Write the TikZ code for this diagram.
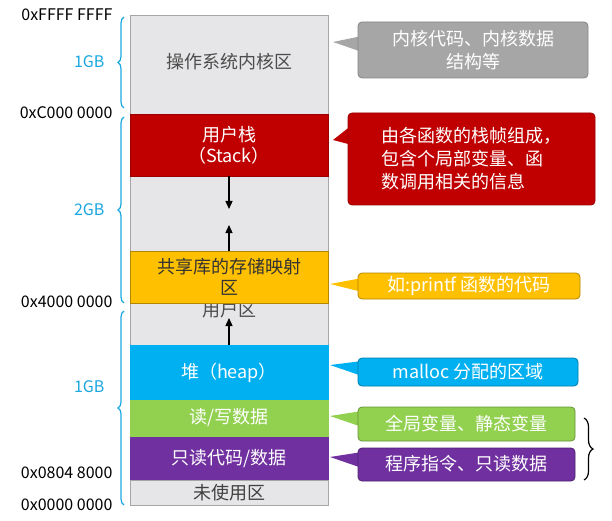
\documentclass[tikz,border=0pt]{standalone}
\usepackage{fontspec}
\setmainfont{Noto Sans CJK SC}
\usetikzlibrary{decorations.pathreplacing,arrows.meta}
\definecolor{kgray}{HTML}{E6E6E8}
\definecolor{sred}{HTML}{C00000}
\definecolor{syel}{HTML}{FFC000}
\definecolor{hblue}{HTML}{00B0F0}
\definecolor{dgreen}{HTML}{92D050}
\definecolor{rpurp}{HTML}{7030A0}
\definecolor{brblue}{HTML}{1AA7E0}
\definecolor{cgray}{HTML}{A6A6A6}
\begin{document}
\begin{tikzpicture}[x=1pt,y=-1pt,
  seg/.style={draw=gray!70,line width=0.8pt},
  lab/.style={font=\fontsize{18}{21}\selectfont,align=center},
  addr/.style={anchor=east,font=\fontsize{16}{18}\selectfont},
  gb/.style={anchor=east,text=brblue,font=\fontsize{16}{18}\selectfont},
  lbrace/.style={draw=brblue,line width=1.2pt,decorate,decoration={brace,amplitude=6pt}},
  co/.style={rounded corners=4pt,line width=0.8pt},
  cot/.style={font=\fontsize{18}{23}\selectfont,align=center},
  arr/.style={-{Triangle[length=8pt,width=7pt]},line width=1.3pt}]
\useasboundingbox (0,0) rectangle (612,521);
% column
\filldraw[seg,fill=kgray] (130,15) rectangle (328,505);
\node[lab,text=gray!60!black] (kern) at (229,62) {操作系统内核区};
\filldraw[seg,fill=sred,draw=sred!80!black] (130,114) rectangle (328,176);
\node[lab,text=white] (stack) at (229,145) {用户栈\\（Stack）};
\node[lab,text=gray!60!black] (user) at (229,310) {用户区};
\filldraw[seg,fill=syel,draw=syel!70!black] (130,251) rectangle (328,303);
\node[lab,text=black!80] (shared) at (229,277) {共享库的存储映射\\区};
\filldraw[seg,fill=hblue,draw=hblue] (130,345) rectangle (328,400);
\node[lab,text=white] (heap) at (229,373) {堆（heap）};
\filldraw[seg,fill=dgreen,draw=dgreen] (130,400) rectangle (328,437);
\node[lab,text=white] (rw) at (229,418) {读/写数据};
\filldraw[seg,fill=rpurp,draw=rpurp] (130,437) rectangle (328,480);
\node[lab,text=white] (ro) at (229,459) {只读代码/数据};
\filldraw[seg,fill=kgray] (130,480) rectangle (328,505);
\node[lab,text=black!75] (unused) at (229,493) {未使用区};
% arrows
\coordinate (a1s) at (229,176); \coordinate (a1e) at (229,209);
\coordinate (a2s) at (229,251); \coordinate (a2e) at (229,225);
\coordinate (a3s) at (229,345); \coordinate (a3e) at (229,318);
\draw[arr] (a1s) -- (a1e);
\draw[arr] (a2s) -- (a2e);
\draw[arr] (a3s) -- (a3e);
% addresses
\node[addr] (f) at (116,15) {0xFFFF FFFF};
\node[addr] (c) at (116,113) {0xC000 0000};
\node[addr] (four) at (116,302) {0x4000 0000};
\node[addr] (eight) at (116,473) {0x0804 8000};
\node[addr] (zero) at (116,505) {0x0000 0000};
\node[gb] (g1) at (108,62) {1GB};
\node[gb] (g2) at (108,210) {2GB};
\node[gb] (g3) at (108,387) {1GB};
\draw[lbrace] (124,108) -- (124,17);
\draw[lbrace] (124,303) -- (124,117);
\draw[lbrace] (124,505) -- (124,311);
% callouts
\fill[cgray] (333,42) -- (362,36) -- (362,52) -- cycle;
\filldraw[co,fill=cgray,draw=cgray!80!black] (358,22) rectangle (588,78);
\node[cot,text=white] (c1) at (473,50) {内核代码、内核数据\\结构等};
\fill[sred] (333,140) -- (352,125) -- (352,145) -- cycle;
\filldraw[co,fill=sred,draw=sred!80!black] (348,113) rectangle (595,205);
\node[cot,text=white,align=left] (c2) at (471,159) {由各函数的栈帧组成，\\包含个局部变量、函\\数调用相关的信息};
\fill[syel] (330,284) -- (362,278) -- (362,292) -- cycle;
\filldraw[co,fill=syel,draw=syel!70!black] (358,273) rectangle (580,299);
\node[cot,text=white] (c3) at (469,286) {如:printf 函数的代码};
\fill[hblue] (330,365) -- (362,361) -- (362,376) -- cycle;
\filldraw[co,fill=hblue,draw=hblue!70!black] (358,358) rectangle (578,386);
\node[cot,text=white] (c4) at (468,372) {malloc 分配的区域};
\fill[dgreen] (330,416) -- (362,411) -- (362,427) -- cycle;
\filldraw[co,fill=dgreen,draw=dgreen!70!black] (358,407) rectangle (575,441);
\node[cot,text=white] (c5) at (466,424) {全局变量、静态变量};
\fill[rpurp] (330,457) -- (362,452) -- (362,468) -- cycle;
\filldraw[co,fill=rpurp,draw=rpurp!70!black] (358,448) rectangle (575,481);
\node[cot,text=white] (c6) at (466,464) {程序指令、只读数据};
\draw[line width=1.2pt,decorate,decoration={brace,amplitude=9pt}] (584,418) -- (584,480);
\end{tikzpicture}
\end{document}
